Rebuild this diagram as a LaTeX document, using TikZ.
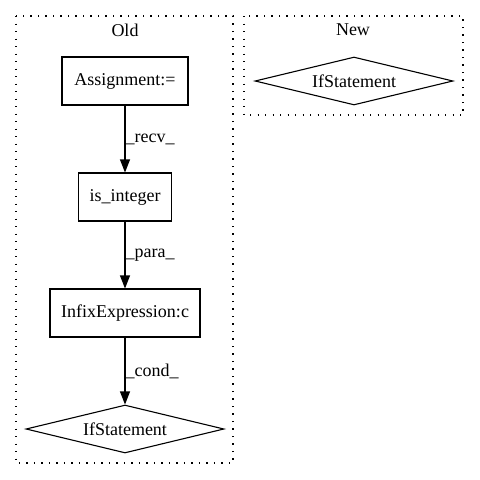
\documentclass[tikz,border=0pt]{standalone}
\usepackage{fontspec}
\setmainfont{Liberation Serif}
\usetikzlibrary{shapes.geometric,arrows.meta}
\begin{document}
\begin{tikzpicture}[x=1pt,y=-1pt,
  every node/.style={font=\fontsize{18}{21.6}\selectfont},
  cluster/.style={draw, line width=1.2pt, dash pattern=on 1.3pt off 6.2pt},
  stmt/.style={draw, line width=1.1pt, rectangle, minimum height=48pt, inner xsep=11pt},
  cond/.style={draw, line width=1.1pt, diamond, shape aspect=4.125, inner sep=0pt, minimum width=198pt, minimum height=48pt},
  edge/.style={line width=1.1pt, -{Triangle[length=13pt,width=10pt]}},
  elabel/.style={anchor=west, inner sep=0pt}
]
\useasboundingbox (0,0) rectangle (480,480);
% clusters
\draw[cluster] (16,16) rectangle (233,463);
\node (oldlbl) at (125,30) {Old};
\draw[cluster] (244,16) rectangle (463,115);
\node (newlbl) at (353,30) {New};
% nodes
\node[stmt, minimum width=126pt] (assign) at (125,81) {Assignment:=};
\node[stmt, minimum width=93pt] (isint) at (125,197) {is\_integer};
\node[stmt, minimum width=150pt] (infix) at (125,313) {InfixExpression:c};
\node[cond] (ifold) at (125,429) {IfStatement};
\node[cond] (ifnew) at (354,81) {IfStatement};
% edges
\draw[edge] (assign) -- node[elabel] {\_recv\_} (isint);
\draw[edge] (isint) -- node[elabel] {\_para\_} (infix);
\draw[edge] (infix) -- node[elabel] {\_cond\_} (ifold);
\end{tikzpicture}
\end{document}
